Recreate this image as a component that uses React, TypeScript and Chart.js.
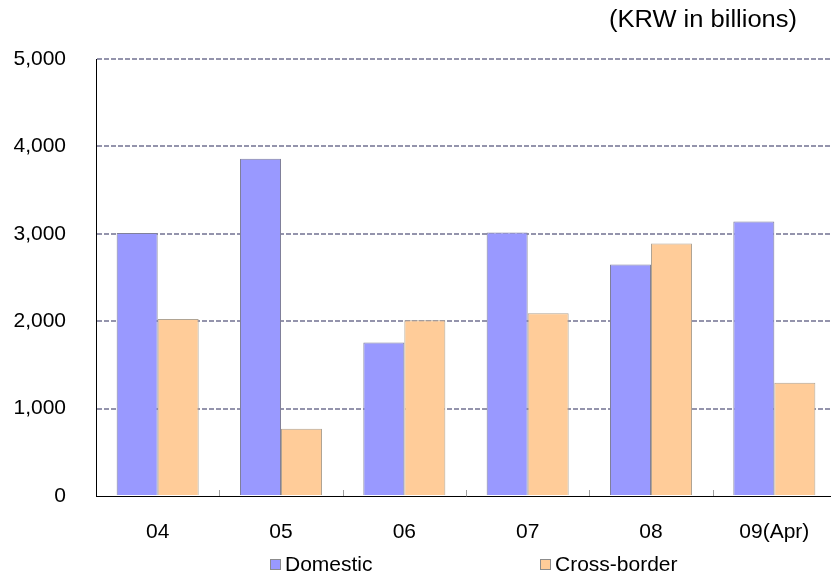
import { useEffect, useRef } from "react";
import { Chart, registerables } from "chart.js";

Chart.register(...registerables);

// Annual amounts, KRW billions
const categories = ["04", "05", "06", "07", "08", "09(Apr)"];
const domestic = [3010, 3860, 1755, 3015, 2650, 3140];
const crossBorder = [2025, 770, 2010, 2090, 2890, 1295];
const yTickValues = [0, 1000, 2000, 3000, 4000, 5000];
const unitLabel = "(KRW in billions)";
const seriesNames = ["Domestic", "Cross-border"];

const FONT = "'Liberation Sans', Arial, Helvetica, sans-serif";

// Unit caption at the top right, slightly widened
const unitPlugin = {
  id: "unitCaption",
  afterDraw(chart: any) {
    const ctx = chart.ctx;
    ctx.save();
    ctx.font = `23px ${FONT}`;
    ctx.fillStyle = "#000";
    ctx.textAlign = "left";
    ctx.textBaseline = "middle";
    const w = ctx.measureText(unitLabel).width;
    const target = 188;
    ctx.translate(797 - target, 21);
    ctx.scale(target / w, 1);
    ctx.fillText(unitLabel, 0, 0);
    ctx.restore();
  },
};

// Small inward ticks on the category axis between groups
const dividerTicks = {
  id: "dividerTicks",
  afterDraw(chart: any) {
    const x = chart.scales.x;
    const ctx = chart.ctx;
    const bottom = chart.chartArea.bottom;
    ctx.save();
    ctx.strokeStyle = "#a0a0a0";
    ctx.lineWidth = 1;
    for (let i = 1; i < categories.length; i++) {
      const px = Math.round(x.getPixelForValue(i - 0.5)) + 0.5;
      ctx.beginPath();
      ctx.moveTo(px, bottom - 6);
      ctx.lineTo(px, bottom);
      ctx.stroke();
    }
    ctx.restore();
  },
};

// Legend with boxed swatches below the axis
const boxLegend = {
  id: "boxLegend",
  afterDraw(chart: any, _args: any, opts: any) {
    const ctx = chart.ctx;
    const starts: number[] = opts.starts;
    const y = opts.y;
    ctx.save();
    ctx.font = `21px ${FONT}`;
    ctx.textBaseline = "middle";
    ctx.textAlign = "left";
    chart.data.datasets.forEach((ds: any, i: number) => {
      const left = starts[i];
      ctx.fillStyle = ds.backgroundColor;
      ctx.fillRect(left, y - 5, 11, 11);
      ctx.strokeStyle = "#8c8c8c";
      ctx.lineWidth = 1;
      ctx.strokeRect(left + 0.5, y - 5 + 0.5, 10, 10);
      ctx.fillStyle = "#000";
      ctx.fillText(ds.label, left + 15, y + 1);
    });
    ctx.restore();
  },
};

export default function App() {
  const canvasRef = useRef<HTMLCanvasElement | null>(null);

  useEffect(() => {
    document.body.style.overflow = "hidden";
    const canvas = canvasRef.current;
    if (!canvas) return;
    const chart = new Chart(canvas, {
      type: "bar",
      data: {
        labels: categories,
        datasets: [
          {
            label: seriesNames[0],
            data: domestic,
            backgroundColor: "#9999ff",
            borderColor: "#80809a",
            borderWidth: 1,
          },
          {
            label: seriesNames[1],
            data: crossBorder,
            backgroundColor: "#ffcc99",
            borderColor: "#b0a494",
            borderWidth: 1,
          },
        ],
      },
      options: {
        animation: false,
        responsive: false,
        devicePixelRatio: 1,
        layout: { padding: { top: 59, right: 9, left: 0, bottom: 0 } },
        datasets: {
          bar: { categoryPercentage: 0.665, barPercentage: 1 },
        },
        plugins: {
          legend: { display: false },
          tooltip: { enabled: false },
          boxLegend: { starts: [270, 540], y: 564 },
        } as any,
        scales: {
          x: {
            grid: { display: false, drawTicks: false },
            border: { display: true, color: "#000", width: 1 },
            ticks: {
              color: "#000",
              font: { family: FONT, size: 21 },
              padding: 24,
              maxRotation: 0,
            },
            afterFit(scale: any) {
              scale.height = 77;
            },
          },
          y: {
            min: 0,
            max: 5000,
            afterBuildTicks(scale: any) {
              scale.ticks = yTickValues.map((v) => ({ value: v }));
            },
            grid: {
              color: (c: any) => (c.tick && c.tick.value === 0 ? "rgba(0,0,0,0)" : "#9494ac"),
              lineWidth: 2,
              drawTicks: false,
            },
            border: { display: true, color: "#000", width: 1, dash: [5, 2] },
            ticks: {
              color: "#000",
              font: { family: FONT, size: 21 },
              padding: 30,
              callback: (v: any) => Number(v).toLocaleString("en-US"),
            },
            afterFit(scale: any) {
              scale.width = 96;
            },
          },
        },
      },
      plugins: [unitPlugin, dividerTicks, boxLegend],
    });
    return () => chart.destroy();
  }, []);

  return (
    <div style={{ position: "fixed", left: 0, top: 0, width: 845, height: 573, background: "#fff" }}>
      <canvas ref={canvasRef} width={845} height={573} style={{ display: "block" }} />
    </div>
  );
}
